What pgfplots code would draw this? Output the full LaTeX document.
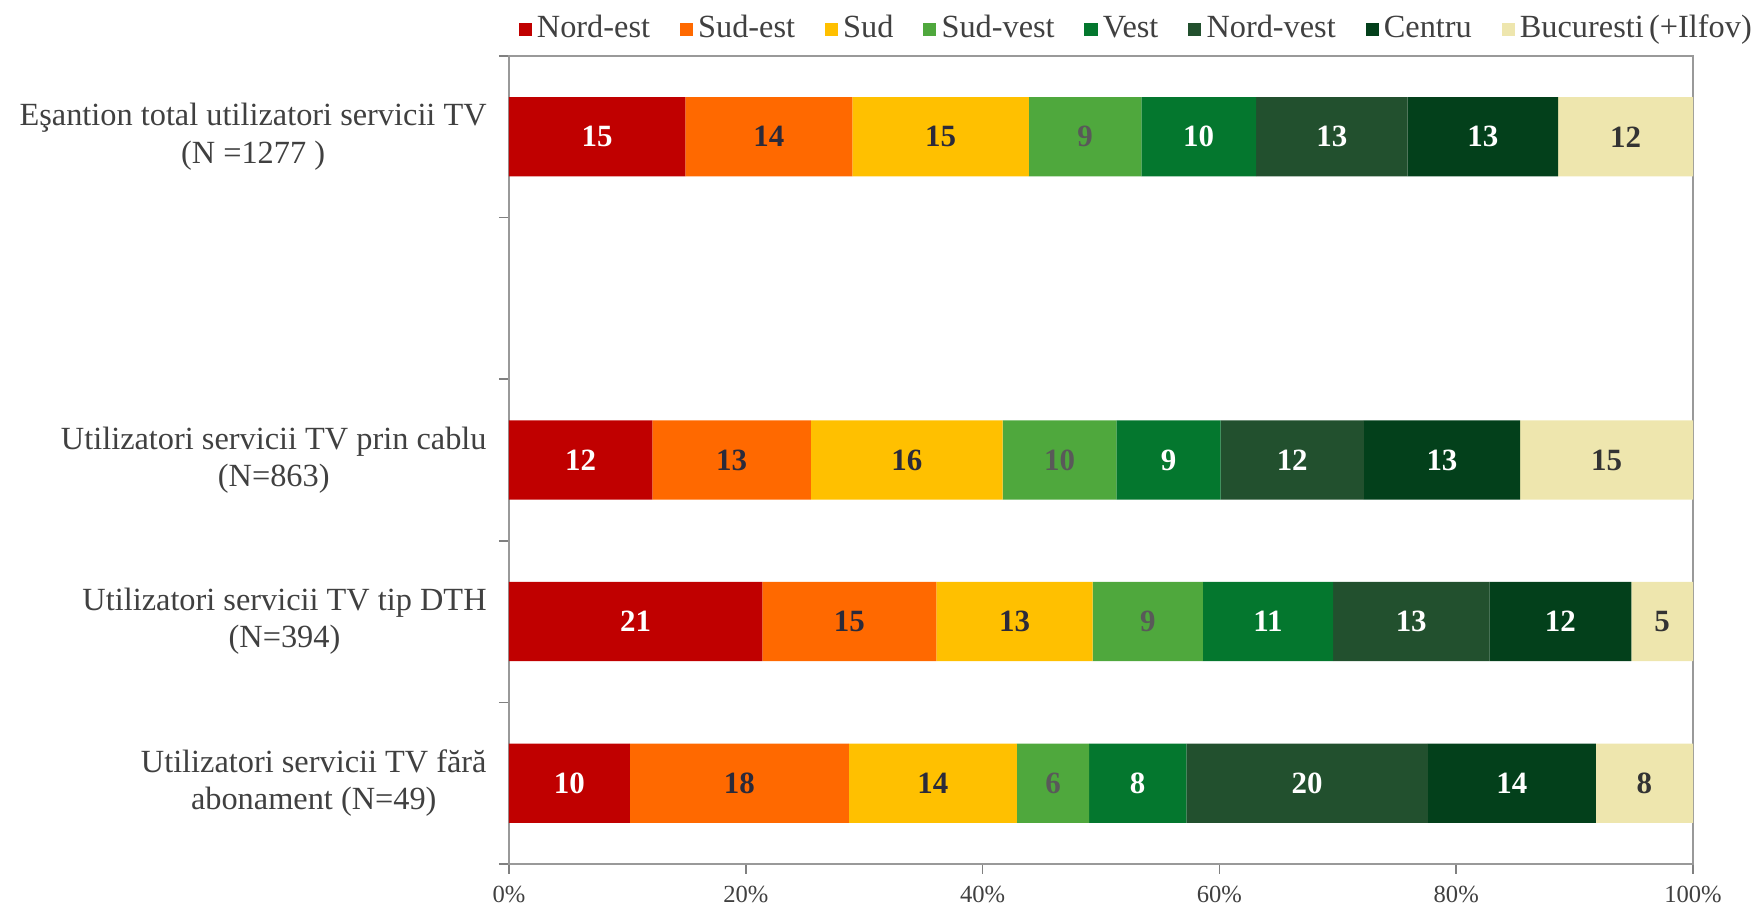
\documentclass[border=0pt]{standalone}
\usepackage{pgfplots}
\pgfplotsset{compat=1.18}
\usepackage{fontspec}
\setmainfont{Liberation Serif}

\definecolor{ne}{HTML}{C00000}
\definecolor{se}{HTML}{FF6900}
\definecolor{su}{HTML}{FFC000}
\definecolor{sv}{HTML}{4FA83D}
\definecolor{ve}{HTML}{04772E}
\definecolor{nv}{HTML}{22502E}
\definecolor{ce}{HTML}{03401B}
\definecolor{bu}{HTML}{EEE6AE}
\definecolor{lbl}{HTML}{2B2A3A}

\begin{document}
\begin{tikzpicture}
\begin{axis}[
    scale only axis,
    width=11.84cm, height=8.08cm,
    xbar stacked, bar width=0.49,
    xmin=0, xmax=100, ymin=0.5, ymax=5.5,
    xtick={0,20,...,100},
    xticklabel={\pgfmathprintnumber{\tick}\%},
    /pgf/number format/assume math mode=true,
    x tick label style={font=\fontsize{7}{8}\selectfont, text=black!75},
    ytick={1,2,3,5},
    yticklabels={{Utilizatori servicii TV fără\\abonament (N=49)},
                 {Utilizatori servicii TV tip DTH\\(N=394)},
                 {Utilizatori servicii TV prin cablu\\(N=863)},
                 {Eşantion total utilizatori servicii TV\\(N =1277 )}},
    y tick label style={align=center, font=\fontsize{9.2}{10.6}\selectfont, text=black!75},
    minor ytick={0.5,1.5,...,5.5},
    tick align=outside, xtick pos=bottom, ytick pos=left,
    major tick length=0.1cm, minor tick length=0.1cm,
    tick style={gray, line width=0.5pt},
    major y tick style={draw=none},
    axis line style={gray!80, line width=0.5pt},
    nodes near coords, point meta=explicit symbolic,
    every node near coord/.append style={anchor=center,
        font=\fontsize{8.8}{10}\selectfont\bfseries, text=lbl},
    legend columns=-1,
    legend style={at={(0,1)}, anchor=south west, xshift=0.09cm, yshift=0.05cm,
        draw=none, fill=none, inner sep=0pt,
        font=\fontsize{9.2}{11}\selectfont, text=black!75,
        nodes={inner xsep=1.5pt},
        /tikz/every even column/.append style={column sep=0.245cm}},
    legend image code/.code={\fill[#1] (0cm,-0.065cm) rectangle (0.13cm,0.065cm);},
]
\addplot[fill=ne, draw=none, every node near coord/.append style={text=white}]
    coordinates {(14.9,5) [15] (12.1,3) [12] (21.4,2) [21] (10.2,1) [10]};
\addplot[fill=se, draw=none]
    coordinates {(14.1,5) [14] (13.4,3) [13] (14.7,2) [15] (18.5,1) [18]};
\addplot[fill=su, draw=none]
    coordinates {(14.9,5) [15] (16.2,3) [16] (13.2,2) [13] (14.2,1) [14]};
\addplot[fill=sv, draw=none, every node near coord/.append style={text=black!65}]
    coordinates {(9.5,5) [9] (9.6,3) [10] (9.3,2) [9] (6.1,1) [6]};
\addplot[fill=ve, draw=none, every node near coord/.append style={text=white}]
    coordinates {(9.7,5) [10] (8.8,3) [9] (11.0,2) [11] (8.2,1) [8]};
\addplot[fill=nv, draw=none, every node near coord/.append style={text=white}]
    coordinates {(12.8,5) [13] (12.1,3) [12] (13.2,2) [13] (20.4,1) [20]};
\addplot[fill=ce, draw=none, every node near coord/.append style={text=white}]
    coordinates {(12.7,5) [13] (13.2,3) [13] (12.0,2) [12] (14.2,1) [14]};
\addplot[fill=bu, draw=none, every node near coord/.append style={text=black!80}]
    coordinates {(11.4,5) [12] (14.6,3) [15] (5.2,2) [5] (8.2,1) [8]};
\legend{Nord-est,Sud-est,Sud,Sud-vest,Vest,Nord-vest,Centru,Bucuresti\,(+Ilfov)}
\coordinate (bl) at (rel axis cs:0,0);
\coordinate (tr) at (rel axis cs:1,1);
\end{axis}
\pgfresetboundingbox
\path[use as bounding box] ([xshift=-5.09cm,yshift=-0.44cm]bl) rectangle ([xshift=0.62cm,yshift=0.56cm]tr);
\end{tikzpicture}
\end{document}
